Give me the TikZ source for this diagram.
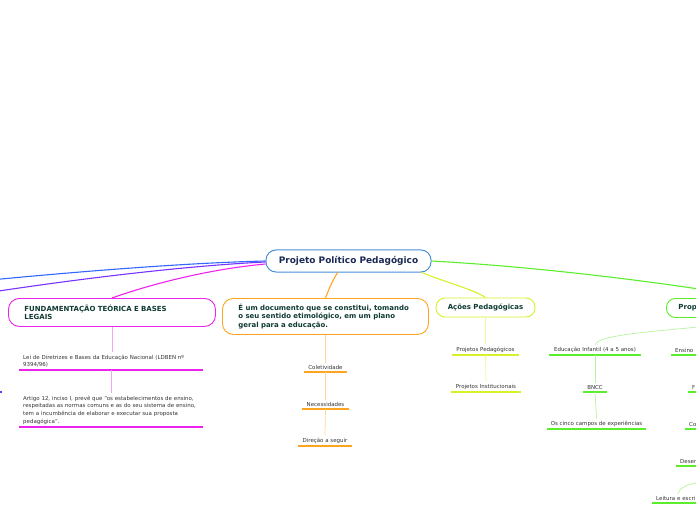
\documentclass[tikz,border=0pt]{standalone}
\usepackage{fontspec}
\setmainfont{DejaVu Sans}
\usetikzlibrary{calc}
\definecolor{centerblue}{HTML}{4A90D9}
\definecolor{navytext}{HTML}{1B2A55}
\definecolor{boxtext}{HTML}{0F3B33}
\definecolor{leaftext}{HTML}{333333}
\definecolor{blueC}{HTML}{3366FF}
\definecolor{purpC}{HTML}{7733FF}
\definecolor{magC}{HTML}{EE22EE}
\definecolor{lmagC}{HTML}{F2A6F2}
\definecolor{oraC}{HTML}{FFA41F}
\definecolor{loraC}{HTML}{FFD59A}
\definecolor{yelC}{HTML}{D8F028}
\definecolor{lyelC}{HTML}{EEF79A}
\definecolor{grnC}{HTML}{5CEE2C}
\definecolor{lgrnC}{HTML}{B4F59A}
\tikzset{
  mainbox/.style={draw=#1, line width=0.9bp, rounded corners=11bp, fill=white,
    font=\fontsize{7}{8.6}\selectfont\bfseries, text=boxtext, inner ysep=0bp},
  leaf/.style={font=\fontsize{5.5}{7.8}\selectfont, text=leaftext, inner xsep=4bp, inner ysep=2.3bp,
    append after command={(\tikzlastnode.south west) edge[draw=#1, line width=1.4bp] (\tikzlastnode.south east)}},
  conn/.style={draw=#1, line width=1.1bp},
  sub/.style={draw=#1, line width=0.7bp}
}
\begin{document}
\begin{tikzpicture}[x=1bp,y=-1bp]
\useasboundingbox (0,0) rectangle (696,520);
\clip (0,0) rectangle (696,520);

% free ends of connectors leaving the picture
\coordinate (offB) at (-40,283);
\coordinate (offP) at (-40,297);
\coordinate (offL) at (730,478);
\coordinate (offU1) at (-20,392);
\coordinate (offU2) at (2,392);

% central node
\node[draw=centerblue, line width=1bp, rounded corners=10bp, minimum width=165bp, minimum height=22bp,
  fill=white, font=\fontsize{9}{11}\selectfont\bfseries, text=navytext] (ppp) at (348.5,261) {Projeto Político Pedagógico};

% main boxes
\node[mainbox=magC, anchor=north west, text width=175bp, inner xsep=16bp, minimum height=28bp, align=left]
  (fund) at (8,298) {FUNDAMENTAÇÃO TEÓRICA E BASES\\LEGAIS};
\node[mainbox=oraC, anchor=north west, text width=174bp, inner xsep=16bp, minimum height=36bp, align=left]
  (doc) at (222,298) {É um documento que se constitui, tomando\\o seu sentido etimológico, em um plano\\geral para a educação.};
\node[mainbox=yelC, minimum width=99bp, minimum height=19bp, rounded corners=9bp] (acoes) at (485.5,307.5) {Ações Pedagógicas};
\node[mainbox=grnC, anchor=north west, text width=150bp, inner xsep=12bp, minimum height=19bp, rounded corners=9bp, align=left]
  (prop) at (666,298) {Prop};

% leaves: fundamentacao
\node[leaf=magC, anchor=south west, text width=176bp, align=left] (lei) at (19,370)
  {Lei de Diretrizes e Bases da Educação Nacional (LDBEN nº\\9394/96)};
\node[leaf=magC, anchor=south west, text width=176bp, align=left] (art) at (19,427)
  {Artigo 12, inciso I, prevê que “os estabelecimentos de ensino,\\respeitadas as normas comuns e as do seu sistema de ensino,\\tem a incumbência de elaborar e executar sua proposta\\pedagógica”.};

% leaves: documento
\node[leaf=oraC, anchor=south, minimum width=43bp] (col) at (325.5,372) {Coletividade};
\node[leaf=oraC, anchor=south, minimum width=47bp] (nec) at (325.5,409) {Necessidades};
\node[leaf=oraC, anchor=south, minimum width=54bp] (dir) at (325,446) {Direção a seguir};

% leaves: acoes
\node[leaf=yelC, anchor=south, minimum width=67bp] (pp) at (485.5,355) {Projetos Pedagógicos};
\node[leaf=yelC, anchor=south, minimum width=70bp] (pi) at (486,392) {Projetos Institucionais};

% leaves: proposta
\node[leaf=grnC, anchor=south, minimum width=92bp] (edi) at (595,355) {Educação Infantil (4 a 5 anos)};
\node[leaf=grnC, anchor=south, minimum width=24bp] (bncc) at (595,392) {BNCC};
\node[leaf=grnC, anchor=south, minimum width=97bp] (cinco) at (596.5,429) {Os cinco campos de experiências};
\node[leaf=grnC, anchor=south west, text width=100bp, align=left] (ens) at (671,355) {Ensino};
\node[leaf=grnC, anchor=south west, text width=100bp, align=left] (ff) at (688,392) {F};
\node[leaf=grnC, anchor=south west, text width=100bp, align=left] (co) at (685,429) {Co};
\node[leaf=grnC, anchor=south west, text width=100bp, align=left] (des) at (676,466) {Desen};
\node[leaf=grnC, anchor=south west, text width=100bp, align=left] (leit) at (652,503) {Leitura e escri};

% main connectors
\draw[conn=blueC] (ppp.west) .. controls (180,263) and (60,273) .. (offB);
\draw[conn=purpC] ($(ppp.west)+(0,1)$) .. controls (180,266) and (60,281) .. (offP);
\draw[draw=purpC, line width=1.4bp] (offU1) -- (offU2);
\draw[conn=magC] ($(ppp.west)+(0,3)$) .. controls (200,270) and (140,288) .. (fund.north);
\draw[conn=oraC] ($(ppp.south)+(-11,0)$) .. controls (331,284) .. (doc.north);
\draw[conn=yelC] ($(ppp.south east)+(-10,0)$) .. controls (445,282) and (475,290) .. (acoes.north);
\draw[conn=grnC] (ppp.east) .. controls (560,268) and (700,288) .. (prop.north);

% sub connectors
\draw[sub=lmagC] (fund.south) -- (fund.south |- lei.north);
\draw[sub=lmagC] (lei.south) -- (lei.south |- art.north);
\draw[sub=loraC] (doc.south) -- (doc.south |- col.north);
\draw[sub=loraC] (col.south) -- (nec.north);
\draw[sub=loraC] (nec.south) -- (dir.north);
\draw[sub=lyelC] (acoes.south) -- (acoes.south |- pp.north);
\draw[sub=lyelC] (pp.south) -- (pi.north);
\draw[sub=lgrnC] (prop.south) .. controls (720,330) and (600,330) .. (edi.north);
\draw[sub=lgrnC] (edi.south) -- (bncc.north);
\draw[sub=lgrnC] (bncc.south) -- (cinco.north);
\draw[sub=lgrnC] (offL) .. controls (690,482) and (680,486) .. ($(leit.north west)+(26,0)$);
\end{tikzpicture}
\end{document}
